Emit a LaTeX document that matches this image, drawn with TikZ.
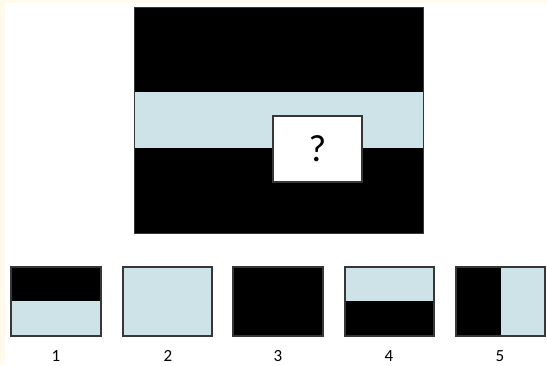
\documentclass[tikz,border=0pt]{standalone}
\usepackage{fontspec}
\setmainfont{Carlito}
\definecolor{cream}{RGB}{255,250,236}
\definecolor{lblue}{RGB}{205,227,232}
\definecolor{edge}{RGB}{55,55,55}
\begin{document}
\begin{tikzpicture}[x=1pt,y=-1pt,
  frame/.style={draw=edge,line width=1.3pt},
  lbl/.style={font=\fontsize{17}{19}\selectfont,anchor=center}]
\fill[cream] (0,0) rectangle (547,365);
\fill[white] (5,3) rectangle (547,365);
\useasboundingbox (0,0) rectangle (547,365);
% main puzzle
\fill[black] (134,7) rectangle (423,233);
\fill[lblue] (134,92) rectangle (423,148);
\draw[edge,line width=1pt] (134,7) rectangle (423,233);
\node[frame,fill=white,minimum width=89pt,minimum height=66pt,inner sep=0pt,font=\fontsize{38}{42}\selectfont] (q) at (317.5,149) {?};
% option 1
\fill[black] (11,267) rectangle (101,301);
\fill[lblue] (11,301) rectangle (101,336);
\draw[frame] (11,267) rectangle (101,336);
\node[lbl] (l1) at (56,356) {1};
% option 2
\fill[lblue] (123,267) rectangle (212,336);
\draw[frame] (123,267) rectangle (212,336);
\node[lbl] (l2) at (168,356) {2};
% option 3
\fill[black] (233,267) rectangle (323,336);
\draw[frame] (233,267) rectangle (323,336);
\node[lbl] (l3) at (278,356) {3};
% option 4
\fill[lblue] (345,267) rectangle (434,301);
\fill[black] (345,301) rectangle (434,336);
\draw[frame] (345,267) rectangle (434,336);
\node[lbl] (l4) at (389,356) {4};
% option 5
\fill[black] (456,267) rectangle (501,336);
\fill[lblue] (501,267) rectangle (545,336);
\draw[frame] (456,267) rectangle (545,336);
\node[lbl] (l5) at (500,356) {5};
\end{tikzpicture}
\end{document}
